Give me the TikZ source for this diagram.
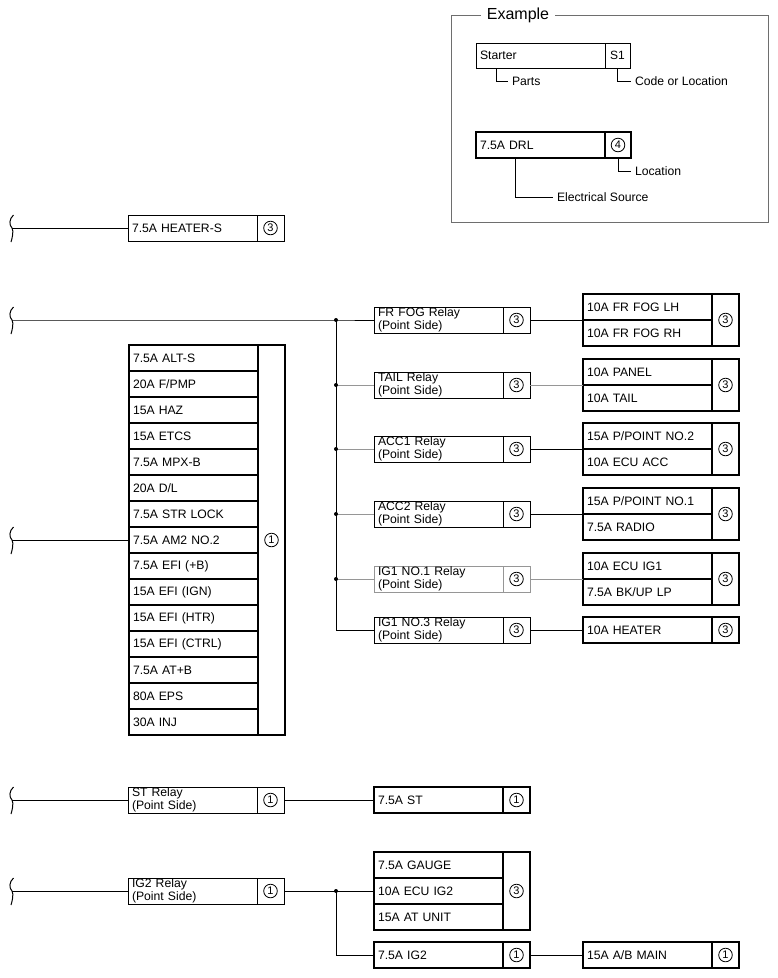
\documentclass[tikz,border=0pt]{standalone}
\usepackage{fontspec}
\setmainfont{Liberation Sans}
\usetikzlibrary{positioning}
\definecolor{wiregray}{RGB}{150,150,150}
\definecolor{framegray}{RGB}{110,110,110}

\tikzset{
  cell/.style={draw,outer sep=0pt,anchor=north west,minimum height=26pt,
    inner xsep=4pt,inner ysep=0pt,text width=121pt,align=left,
    font=\fontsize{12.2}{11}\selectfont},
  relaybox/.style={cell,line width=1pt},
  fusebox/.style={cell,line width=2.3pt},
  codecell/.style={draw,outer sep=0pt,anchor=north west,minimum width=27pt,
    minimum height=26pt,inner sep=0pt,font=\fontsize{12}{12}\selectfont},
  loccell/.style={codecell,font=\fontsize{11}{11}\selectfont,
    path picture={\draw[black,line width=.8pt] (path picture bounding box.center) circle (6.8pt);}},
  relayloc/.style={loccell,line width=1pt},
  fuseloc/.style={loccell,line width=2.3pt},
  note/.style={anchor=west,inner xsep=4pt,inner ysep=0pt,outer sep=0pt,
    font=\fontsize{12.2}{12}\selectfont},
  wire/.style={line width=1pt},
  graywire/.style={wire,wiregray},
  dot/.style={fill,radius=2pt}
}

\begin{document}
\begin{tikzpicture}[x=1pt,y=-1pt]
\useasboundingbox (0,0) rectangle (778,978);

% example
\draw[framegray,line width=1pt] (451,15) rectangle (768,222);
\node[fill=white,inner xsep=6pt,font=\fontsize{16}{16}\selectfont] (exTitle) at (518,15) {Example};
\node[relaybox,minimum height=25pt] (exStarter) at (476,43) {Starter};
\node[codecell,line width=1pt,minimum width=25pt,minimum height=25pt] (exCode) at (exStarter.north east) {S1};
\node[note] (exParts) at (508,81) {Parts};
\node[note] (exCodeTxt) at (631,81) {Code or Location};
\draw[wire] (exStarter.south west) ++(20,0) |- (exParts.west);
\draw[wire] (exCode.south) |- (exCodeTxt.west);
\node[fusebox] (exDRL) at (476,132) {7.5A DRL};
\node[fuseloc,minimum width=26pt] (exLoc) at (exDRL.north east) {4};
\node[note] (exLocTxt) at (631,171) {Location};
\node[note] (exSrc) at (553,197) {Electrical Source};
\draw[wire] (exLoc.south) |- (exLocTxt.west);
\draw[wire] (exDRL.south west) ++(39,0) |- (exSrc.west);

% cut ends
\foreach \n/\y in {1/228,2/320,3/540,4/800,5/891}{
  \coordinate (brk\n) at (12,\y);
  \draw[wire] (brk\n) ++(1.5,-13) .. controls +(-4.5,4) and +(-3,-3) .. ++(-1.5,13)
    .. controls +(2,3) and +(1,-3) .. ++(-1,14);
}

% heater
\node[relaybox] (heaterS) at (128,215) {7.5A HEATER-S};
\node[relayloc] (heaterSL) at (heaterS.north east) {3};
\draw[wire] (brk1) -- (heaterS.west);

% relays
\node[relaybox] (fogR) at (374,307) {FR FOG Relay\\(Point Side)};
\node[relayloc] (fogRL) at (fogR.north east) {3};
\node[relaybox] (tailR) at (374,372) {TAIL Relay\\(Point Side)};
\node[relayloc] (tailRL) at (tailR.north east) {3};
\node[relaybox] (acc1R) at (374,436) {ACC1 Relay\\(Point Side)};
\node[relayloc] (acc1RL) at (acc1R.north east) {3};
\node[relaybox] (acc2R) at (374,501) {ACC2 Relay\\(Point Side)};
\node[relayloc] (acc2RL) at (acc2R.north east) {3};
\node[relaybox,draw=wiregray] (ig1R) at (374,566) {IG1 NO.1 Relay\\(Point Side)};
\node[relayloc,draw=wiregray] (ig1RL) at (ig1R.north east) {3};
\node[relaybox] (ig3R) at (374,617) {IG1 NO.3 Relay\\(Point Side)};
\node[relayloc] (ig3RL) at (ig3R.north east) {3};

\coordinate (jFog) at (336,320);
\draw[wire] (brk2) -- (jFog) -- (fogR.west);
\draw[wire] (jFog) |- (ig3R.west);
\draw[graywire] (tailR.west -| jFog) -- (tailR.west);
\draw[graywire] (acc1R.west -| jFog) -- (acc1R.west);
\draw[graywire] (acc2R.west -| jFog) -- (acc2R.west);
\draw[graywire] (ig1R.west -| jFog) -- (ig1R.west);
\fill[dot] (jFog) circle;
\foreach \r in {tailR,acc1R,acc2R,ig1R}
  \fill[dot] (\r.west -| jFog) circle;

% fuses behind relays
\node[fusebox] (fogLH) at (583,294) {10A FR FOG LH};
\node[fusebox,below=0pt of fogLH] (fogRH) {10A FR FOG RH};
\node[fuseloc,minimum height=52pt] (fogFL) at (fogLH.north east) {3};
\node[fusebox] (panel) at (583,359) {10A PANEL};
\node[fusebox,below=0pt of panel] (tail) {10A TAIL};
\node[fuseloc,minimum height=52pt] (tailFL) at (panel.north east) {3};
\node[fusebox] (pp2) at (583,423) {15A P/POINT NO.2};
\node[fusebox,below=0pt of pp2] (ecuAcc) {10A ECU ACC};
\node[fuseloc,minimum height=52pt] (acc1FL) at (pp2.north east) {3};
\node[fusebox] (pp1) at (583,488) {15A P/POINT NO.1};
\node[fusebox,below=0pt of pp1] (radio) {7.5A RADIO};
\node[fuseloc,minimum height=52pt] (acc2FL) at (pp1.north east) {3};
\node[fusebox] (ecuIG1) at (583,553) {10A ECU IG1};
\node[fusebox,below=0pt of ecuIG1] (bkup) {7.5A BK/UP LP};
\node[fuseloc,minimum height=52pt] (ig1FL) at (ecuIG1.north east) {3};
\node[fusebox] (heater) at (583,617) {10A HEATER};
\node[fuseloc] (heaterL) at (heater.north east) {3};

\draw[wire] (fogRL.east) -- (fogLH.south west);
\draw[graywire] (tailRL.east) -- (panel.south west);
\draw[wire] (acc1RL.east) -- (pp2.south west);
\draw[wire] (acc2RL.east) -- (pp1.south west);
\draw[graywire] (ig1RL.east) -- (ecuIG1.south west);
\draw[wire] (ig3RL.east) -- (heater.west);

% main fuse column
\node[fusebox] (altS) at (129,345) {7.5A ALT-S};
\node[fusebox,below=0pt of altS] (fpmp) {20A F/PMP};
\node[fusebox,below=0pt of fpmp] (haz) {15A HAZ};
\node[fusebox,below=0pt of haz] (etcs) {15A ETCS};
\node[fusebox,below=0pt of etcs] (mpxB) {7.5A MPX-B};
\node[fusebox,below=0pt of mpxB] (dl) {20A D/L};
\node[fusebox,below=0pt of dl] (strLock) {7.5A STR LOCK};
\node[fusebox,below=0pt of strLock] (am2) {7.5A AM2 NO.2};
\node[fusebox,below=0pt of am2] (efiB) {7.5A EFI (+B)};
\node[fusebox,below=0pt of efiB] (efiIgn) {15A EFI (IGN)};
\node[fusebox,below=0pt of efiIgn] (efiHtr) {15A EFI (HTR)};
\node[fusebox,below=0pt of efiHtr] (efiCtrl) {15A EFI (CTRL)};
\node[fusebox,below=0pt of efiCtrl] (atB) {7.5A AT+B};
\node[fusebox,below=0pt of atB] (eps) {80A EPS};
\node[fusebox,below=0pt of eps] (inj) {30A INJ};
\node[fuseloc,minimum height=390pt] (mainL) at (altS.north east) {1};
\draw[wire] (brk3) -- (am2.west);

% ST
\node[relaybox] (stR) at (128,787) {ST Relay\\(Point Side)};
\node[relayloc] (stRL) at (stR.north east) {1};
\node[fusebox] (stF) at (374,787) {7.5A ST};
\node[fuseloc] (stFL) at (stF.north east) {1};
\draw[wire] (brk4) -- (stR.west);
\draw[wire] (stRL.east) -- (stF.west);

% IG2
\node[relaybox] (ig2R) at (128,878) {IG2 Relay\\(Point Side)};
\node[relayloc] (ig2RL) at (ig2R.north east) {1};
\node[fusebox] (gauge) at (374,852) {7.5A GAUGE};
\node[fusebox,below=0pt of gauge] (ecuIG2) {10A ECU IG2};
\node[fusebox,below=0pt of ecuIG2] (atUnit) {15A AT UNIT};
\node[fuseloc,minimum height=78pt] (gaugeL) at (gauge.north east) {3};
\node[fusebox] (ig2F) at (374,942) {7.5A IG2};
\node[fuseloc] (ig2FL) at (ig2F.north east) {1};
\node[fusebox] (abMain) at (583,942) {15A A/B MAIN};
\node[fuseloc] (abMainL) at (abMain.north east) {1};
\coordinate (jIG2) at (336,891);
\draw[wire] (brk5) -- (ig2R.west);
\draw[wire] (ig2RL.east) -- (jIG2) -- (ecuIG2.west);
\draw[wire] (jIG2) |- (ig2F.west);
\fill[dot] (jIG2) circle;
\draw[wire] (ig2FL.east) -- (abMain.west);
\end{tikzpicture}
\end{document}
